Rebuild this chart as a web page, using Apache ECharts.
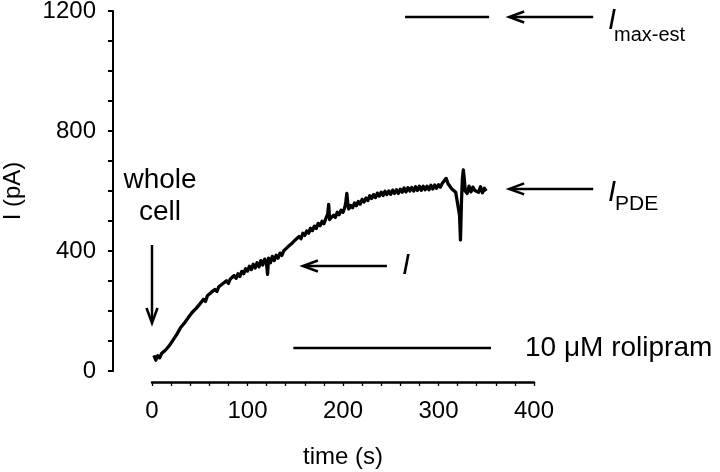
<!DOCTYPE html>
<html>
<head>
<meta charset="utf-8">
<script src="https://cdn.jsdelivr.net/npm/echarts@6/dist/echarts.min.js"></script>
<style>
html,body{margin:0;padding:0;background:#fff;}
#chart{width:720px;height:472px;}
</style>
</head>
<body>
<div id="chart"></div>
<script>
// ---- data (time in s, current in pA) ----
const time = [2,4,6,8,10,12,14,16,18,20,22,24,26,28,30,32,34,36,38,40,42,44,46,48,50,52,54,56,58,60,62,64,66,68,70,72,74,76,78,80,82,84,86,88,90,92,94,96,98,100,102,104,106,108,110,112,114,116,118,120,121,122,124,126,128,130,132,134,136,138,140,142,144,146,148,150,152,154,156,158,160,162,164,166,168,170,172,174,176,178,180,182,184,185,186,188,190,192,194,196,198,200,202,203,204,205,206,208,210,212,214,216,218,220,222,224,226,228,230,232,234,236,238,240,242,244,246,248,250,252,254,256,258,260,262,264,266,268,270,272,274,276,278,280,282,284,286,288,290,292,294,296,298,300,302,304,306,308,310,312,314,316,318,320,322,323,324,325,326,327,328,330,332,334,336,338,340,342,344,346,348,350];
const current = [52,36,51,44,58,55,69,66,84,85,103,102,122,123,145,140,160,160,178,175,195,189,208,207,223,220,239,232,251,246,262,256,272,265,281,277,291,285,301,292,307,302,318,309,324,315,332,324,341,333,349,338,356,343,361,347,368,353,373,356,322,376,361,382,368,386,376,393,385,401,395,413,407,424,418,437,431,448,441,459,452,467,459,476,468,483,475,492,484,499,491,508,524,555,505,504,519,512,529,521,536,529,546,565,592,560,540,552,544,560,551,565,556,572,563,577,568,584,575,588,578,593,583,596,585,599,588,600,589,603,592,604,592,606,596,610,597,611,600,612,600,614,602,616,602,616,604,616,604,619,607,620,609,621,613,626,623,642,624,623,607,611,596,600,520,437,560,640,670,640,600,592,616,597,613,602,607,596,614,594,609,600];
const xTicks = {min:0, max:400, step:20, labelStep:100};
const yTicks = {min:0, max:1200, step:100, labelStep:400};
// annotation marks in data units
const wholeCellArrow = [[0,420],[0,160]];
const iArrow = [[246,350],[158,350]];
const pdeArrow = [[462,607],[374,607]];
const maxEstArrow = [[462,1180],[374,1180]];
const maxEstLine = [[265,1180],[353,1180]];
const roliLine = [[148,77],[355,77]];

const FONT = '"Liberation Sans", Arial, sans-serif';
const chart = echarts.init(document.getElementById('chart'));
const option = {
  animation: false,
  backgroundColor: '#fff',
  grid: {left:152, right:186, top:11, bottom:101, containLabel:false, outerBoundsMode:'none'},
  xAxis: {
    type:'value', min:xTicks.min, max:xTicks.max, interval:xTicks.step,
    offset: 11,
    name:'time (s)', nameLocation:'middle', nameGap:63,
    nameTextStyle:{fontFamily:FONT, fontSize:24, color:'#000'},
    axisLine:{show:true, onZero:false, lineStyle:{color:'#000', width:2.5}},
    axisTick:{show:true, length:4, lineStyle:{color:'#000', width:1.3}},
    splitLine:{show:false},
    axisLabel:{fontFamily:FONT, fontSize:24, color:'#000', margin:17, showMinLabel:true, showMaxLabel:true, hideOverlap:false,
      formatter:v=>(v % xTicks.labelStep === 0 ? String(v) : '')}
  },
  yAxis: {
    type:'value', min:yTicks.min, max:yTicks.max, interval:yTicks.step,
    offset: 39,
    name:'I (pA)', nameLocation:'middle', nameGap:88,
    nameTextStyle:{fontFamily:FONT, fontSize:24, color:'#000'},
    axisLine:{show:true, onZero:false, lineStyle:{color:'#000', width:2}},
    axisTick:{show:true, length:5, lineStyle:{color:'#000', width:2}},
    splitLine:{show:false},
    axisLabel:{fontFamily:FONT, fontSize:24, color:'#000', margin:17, showMinLabel:true, showMaxLabel:true, hideOverlap:false,
      formatter:v=>(v % yTicks.labelStep === 0 ? String(v) : '')}
  },
  series: [
    {
      type:'line', data: time.map((t,i)=>[t,current[i]]),
      symbol:'none', lineStyle:{color:'#000', width:3.3, join:'round'}, clip:false,
      silent:true
    }
  ]
};
chart.setOption(option);

// annotations (converted from data units through the chart's scales)
const px = (p) => chart.convertToPixel({gridIndex:0}, p);
function segment(seg) {
  const a = px(seg[0]), b = px(seg[1]);
  return {type:'line', silent:true, shape:{x1:a[0], y1:a[1], x2:b[0], y2:b[1]}, style:{stroke:'#000', lineWidth:2.5}};
}
function arrow(seg) {
  const a = px(seg[0]), b = px(seg[1]);
  const dx = b[0]-a[0], dy = b[1]-a[1], len = Math.hypot(dx,dy);
  const ux = dx/len, uy = dy/len, nx = -uy, ny = ux;
  const L = 15, W = 5.5;
  const bx = b[0]-ux*L, by = b[1]-uy*L;
  return [
    {type:'line', silent:true, shape:{x1:a[0], y1:a[1], x2:b[0]-ux*2, y2:b[1]-uy*2}, style:{stroke:'#000', lineWidth:2.5}},
    {type:'polyline', silent:true, shape:{points:[[bx+nx*W, by+ny*W],[b[0],b[1]],[bx-nx*W, by-ny*W]]},
     style:{stroke:'#000', lineWidth:2.5, fill:null, lineJoin:'miter', miterLimit:10}}
  ];
}
const txt = (x,y,text,font,align) => ({type:'text', silent:true, x:x, y:y,
  style:{text:text, font:font, fill:'#000', textAlign:align||'center', textVerticalAlign:'middle'}});
chart.setOption({
  graphic: [].concat(
    arrow(wholeCellArrow), arrow(iArrow), arrow(pdeArrow), arrow(maxEstArrow),
    [segment(maxEstLine), segment(roliLine)],
    [
      txt(160,180,'whole','28px '+FONT),
      txt(160,212,'cell','28px '+FONT),
      txt(612,21,'I','italic 29px '+FONT),
      txt(614,35,'max-est','20px '+FONT,'left'),
      txt(612,193,'I','italic 29px '+FONT),
      txt(615,204,'PDE','21px '+FONT,'left'),
      txt(406,266,'I','italic 29px '+FONT),
      txt(525,348,'10 \u03bcM rolipram','28px '+FONT,'left')
    ]
  )
});
</script>
</body>
</html>
